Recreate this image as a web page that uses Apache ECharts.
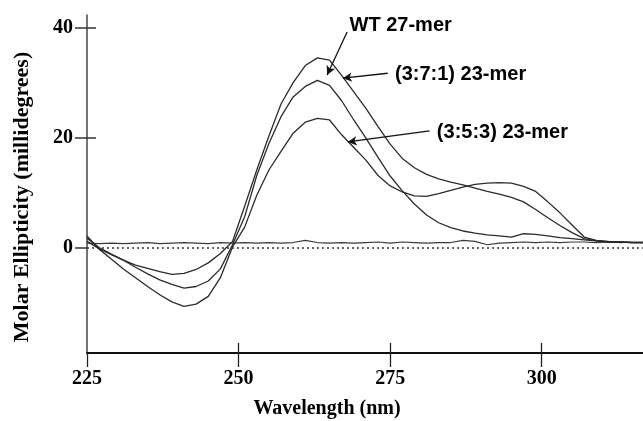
<!DOCTYPE html>
<html>
<head>
<meta charset="utf-8">
<script src="https://cdn.jsdelivr.net/npm/echarts@6/dist/echarts.min.js"></script>
<style>
html,body{margin:0;padding:0;background:#fff;}
#chart{width:643px;height:421px;}
</style>
</head>
<body>
<div id="chart"></div>
<script>
// Wavelength samples (nm)
var wavelengths = [225,227,229,231,233,235,237,239,241,243,245,247,249,251,253,255,257,259,261,263,265,267,269,271,273,275,277,279,281,283,285,287,289,291,293,295,297,299,301,303,305,307,309,311,313,315,317];

// Molar ellipticity (millidegrees)
var wt27 = [1.2,-0.1,-1.2,-2.2,-3.5,-4.7,-5.8,-6.6,-7.3,-7.0,-6.0,-3.8,0.6,5.7,13.2,19.0,23.9,27.5,29.4,30.5,29.6,26.8,23.3,20.0,16.5,13.1,10.4,8.0,6.0,4.6,3.7,3.1,2.7,2.4,2.2,2.0,2.6,2.5,2.2,1.9,1.7,1.5,1.3,1.1,1.1,1.0,1.0];
var m371 = [1.8,0.1,-1.1,-2.2,-3.1,-3.7,-4.3,-4.8,-4.6,-3.9,-2.7,-1.0,1.2,7.6,14.2,20.4,26.2,30.1,33.2,34.6,34.2,31.4,28.4,25.4,22.1,18.9,16.3,14.6,13.4,12.6,12.0,11.5,10.9,10.3,9.8,9.2,8.4,7.0,5.5,4.1,2.8,1.7,1.3,1.1,1.1,1.0,1.0];
var m353 = [2.2,-0.2,-2.0,-3.8,-5.4,-7.0,-8.5,-9.8,-10.6,-10.2,-8.8,-5.4,0.2,3.8,9.6,14.2,17.6,20.9,22.9,23.6,23.3,20.6,18.3,16.0,13.2,11.3,10.2,9.5,9.4,9.9,10.5,11.1,11.6,11.8,11.9,11.8,11.2,10.3,8.4,6.4,4.2,2.0,1.4,1.2,1.1,1.0,1.0];
var buffer = [0.9,0.8,0.9,0.8,0.9,1.0,0.8,0.9,1.0,0.9,0.8,1.0,0.9,1.0,0.9,1.0,0.9,1.0,1.4,1.0,0.9,1.0,0.9,1.0,1.1,0.9,1.1,1.0,0.9,1.0,1.0,1.4,1.2,0.6,0.9,1.0,1.1,1.0,1.1,1.0,1.1,1.1,1.0,1.1,1.0,1.1,1.1];

// Tick labels
var xTicks = [225,250,275,300];
var yTicks = [0,20,40];

// Annotations
var annotNames = ['WT 27-mer','(3:7:1) 23-mer','(3:5:3) 23-mer'];
var annotTextAt = [[268.3,40.5],[275.8,31.6],[282.7,21.1]];
var arrowFrom = [[267.9,39.3],[274.6,31.8],[281.5,21.3]];
var arrowTo = [[264.6,31.5],[267.2,30.9],[268.0,19.3]];

function pairs(xs, ys){ return xs.map(function(x,i){ return [x, ys[i]]; }); }

var lineColor = '#2b2b2b';
var serif = '"Liberation Serif","Times New Roman",serif';
var sans = '"Liberation Sans",Arial,sans-serif';

var chart = echarts.init(document.getElementById('chart'), null, {renderer:'canvas'});

var xCommon = {type:'value', min:225, max:316.7, splitLine:{show:false}};
var yCommon = {type:'value', min:-19.1, max:42.4, splitLine:{show:false}};

var option = {
  backgroundColor:'#ffffff',
  animation:false,
  grid:{left:87, right:0, top:15, bottom:68, containLabel:false},
  xAxis:[
    Object.assign({}, xCommon, {
      axisLine:{show:true, onZero:false, lineStyle:{color:'#111', width:2}},
      axisTick:{show:true, inside:false, length:14, customValues:xTicks, lineStyle:{color:'#222', width:1.3}},
      axisLabel:{show:true, customValues:xTicks, margin:16, color:'#000', fontFamily:serif, fontWeight:'bold', fontSize:20}
    }),
    Object.assign({}, xCommon, {
      position:'bottom',
      axisLine:{show:false, onZero:false},
      axisTick:{show:true, inside:true, length:10, customValues:[250,275,300], lineStyle:{color:'#222', width:1.3}},
      axisLabel:{show:false}
    })
  ],
  yAxis:[
    Object.assign({}, yCommon, {
      axisLine:{show:true, onZero:false, lineStyle:{color:'#444', width:1.5}},
      axisTick:{show:true, inside:false, length:12, customValues:yTicks, lineStyle:{color:'#333', width:1.5}},
      axisLabel:{show:true, customValues:yTicks, margin:14, color:'#000', fontFamily:serif, fontWeight:'bold', fontSize:20}
    }),
    Object.assign({}, yCommon, {
      position:'left',
      axisLine:{show:false, onZero:false},
      axisTick:{show:true, inside:true, length:9, customValues:[20,40], lineStyle:{color:'#333', width:1.5}},
      axisLabel:{show:false}
    })
  ],
  graphic:[
    {type:'text', x:22, y:197, rotation:Math.PI/2,
     style:{text:'Molar Ellipticity (millidegrees)', fill:'#000', font:'bold 22px ' + serif, align:'center', verticalAlign:'middle'}},
    {type:'text', x:327, y:409,
     style:{text:'Wavelength (nm)', fill:'#000', font:'bold 20px ' + serif, align:'center', verticalAlign:'middle'}}
  ],
  series:[
    {name:'Buffer', type:'line', data:pairs(wavelengths, buffer), symbol:'none', smooth:false,
     lineStyle:{color:'#3a3a3a', width:1.2},
     markLine:{silent:true, symbol:'none', label:{show:false},
       lineStyle:{color:'#333', width:1.6, type:[2,3]},
       data:[{yAxis:0}]}},
    {name:'WT 27-mer', type:'line', data:pairs(wavelengths, wt27), symbol:'none', smooth:false,
     lineStyle:{color:lineColor, width:1.3}},
    {name:'(3:7:1) 23-mer', type:'line', data:pairs(wavelengths, m371), symbol:'none', smooth:false,
     lineStyle:{color:lineColor, width:1.3}},
    {name:'(3:5:3) 23-mer', type:'line', data:pairs(wavelengths, m353), symbol:'none', smooth:false,
     lineStyle:{color:lineColor, width:1.3}},
    {name:'annotations', type:'scatter', symbolSize:0, silent:true, itemStyle:{color:'#000', opacity:1},
     data:annotTextAt.map(function(p,i){ return {value:p, name:annotNames[i]}; }),
     label:{show:true, position:'right', distance:0, align:'left', verticalAlign:'middle',
       formatter:function(p){ return p.name; },
       color:'#000', opacity:1, textBorderWidth:0,
       fontFamily:sans, fontWeight:'bold', fontSize:20},
     markLine:{silent:true, symbol:['none','arrow'], symbolSize:[7,9], label:{show:false},
       lineStyle:{color:'#111', width:1.3, type:'solid', opacity:1},
       data:arrowFrom.map(function(p,i){ return [{coord:p},{coord:arrowTo[i]}]; })}}
  ]
};
chart.setOption(option);
</script>
</body>
</html>
